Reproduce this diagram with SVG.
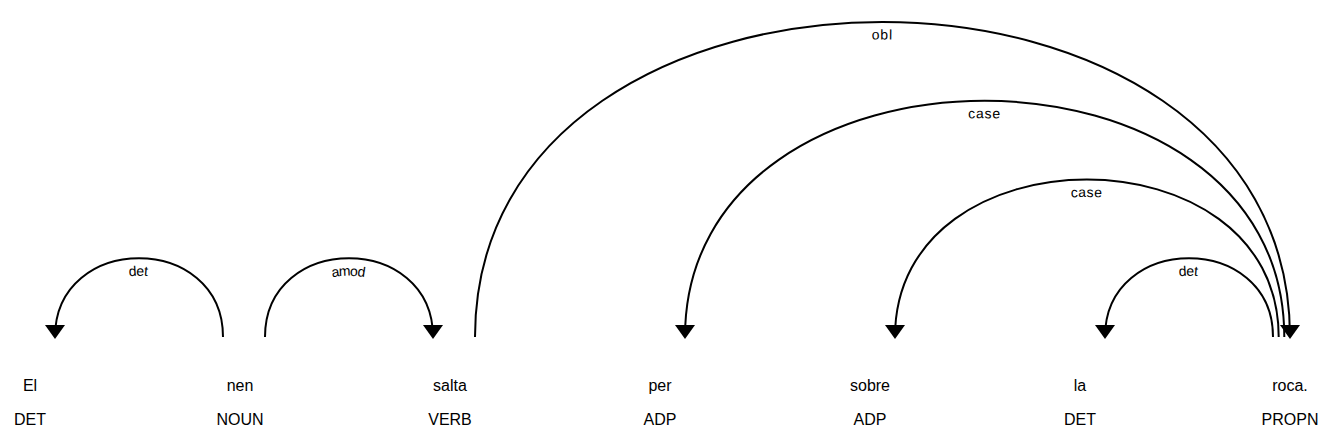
<svg xmlns="http://www.w3.org/2000/svg" xmlns:xlink="http://www.w3.org/1999/xlink" width="1335" height="440" viewBox="0 0 1335 440">
<style>
.word { font-family: "Liberation Sans", Arial, sans-serif; font-size: 16px; fill: #000; text-anchor: middle; }
.arc { fill: none; stroke: #000; stroke-width: 2px; }
.head { fill: #000; stroke: none; }
.lbl { font-family: "Liberation Sans", Arial, sans-serif; font-size: 14px; letter-spacing: 1px; fill: #000; text-anchor: middle; }
</style>
<rect width="1335" height="440" fill="#fff"/>
<g id="tok-0"><text class="word" x="30" y="391">El</text><text class="word" x="30" y="425">DET</text></g>
<g id="tok-1"><text class="word" x="240" y="391">nen</text><text class="word" x="240" y="425">NOUN</text></g>
<g id="tok-2"><text class="word" x="450" y="391">salta</text><text class="word" x="450" y="425">VERB</text></g>
<g id="tok-3"><text class="word" x="660" y="391">per</text><text class="word" x="660" y="425">ADP</text></g>
<g id="tok-4"><text class="word" x="870" y="391">sobre</text><text class="word" x="870" y="425">ADP</text></g>
<g id="tok-5"><text class="word" x="1080" y="391">la</text><text class="word" x="1080" y="425">DET</text></g>
<g id="tok-6"><text class="word" x="1290" y="391">roca.</text><text class="word" x="1290" y="425">PROPN</text></g>
<g id="connectors">
  <g id="arc-det-0">
    <path id="p0" class="arc" d="M55,337 C55,232 223,232 223,337"/>
    <text class="lbl" dy="1.25em"><textPath xlink:href="#p0" href="#p0" startOffset="50%">det</textPath></text>
    <path class="head" d="M55,339 L45,325 65,325 Z"/>
  </g>
  <g id="arc-amod">
    <path id="p1" class="arc" d="M265,337 C265,232 433,232 433,337"/>
    <text class="lbl" dy="1.25em"><textPath xlink:href="#p1" href="#p1" startOffset="50%">amod</textPath></text>
    <path class="head" d="M433,339 L423,325 443,325 Z"/>
  </g>
  <g id="arc-obl">
    <path id="p2" class="arc" d="M475,337 C475,-83 1290,-83 1290,337"/>
    <text class="lbl" dy="1.25em"><textPath xlink:href="#p2" href="#p2" startOffset="50%">obl</textPath></text>
    <path class="head" d="M1290,339 L1280,325 1300,325 Z"/>
  </g>
  <g id="arc-case-per">
    <path id="p3" class="arc" d="M685,337 C685,22 1284.3,22 1284.3,337"/>
    <text class="lbl" dy="1.25em"><textPath xlink:href="#p3" href="#p3" startOffset="50%">case</textPath></text>
    <path class="head" d="M685,339 L675,325 695,325 Z"/>
  </g>
  <g id="arc-case-sobre">
    <path id="p4" class="arc" d="M895,337 C895,127 1278.7,127 1278.7,337"/>
    <text class="lbl" dy="1.25em"><textPath xlink:href="#p4" href="#p4" startOffset="50%">case</textPath></text>
    <path class="head" d="M895,339 L885,325 905,325 Z"/>
  </g>
  <g id="arc-det-5">
    <path id="p5" class="arc" d="M1105,337 C1105,232 1273,232 1273,337"/>
    <text class="lbl" dy="1.25em"><textPath xlink:href="#p5" href="#p5" startOffset="50%">det</textPath></text>
    <path class="head" d="M1105,339 L1095,325 1115,325 Z"/>
  </g>
</g>
</svg>
